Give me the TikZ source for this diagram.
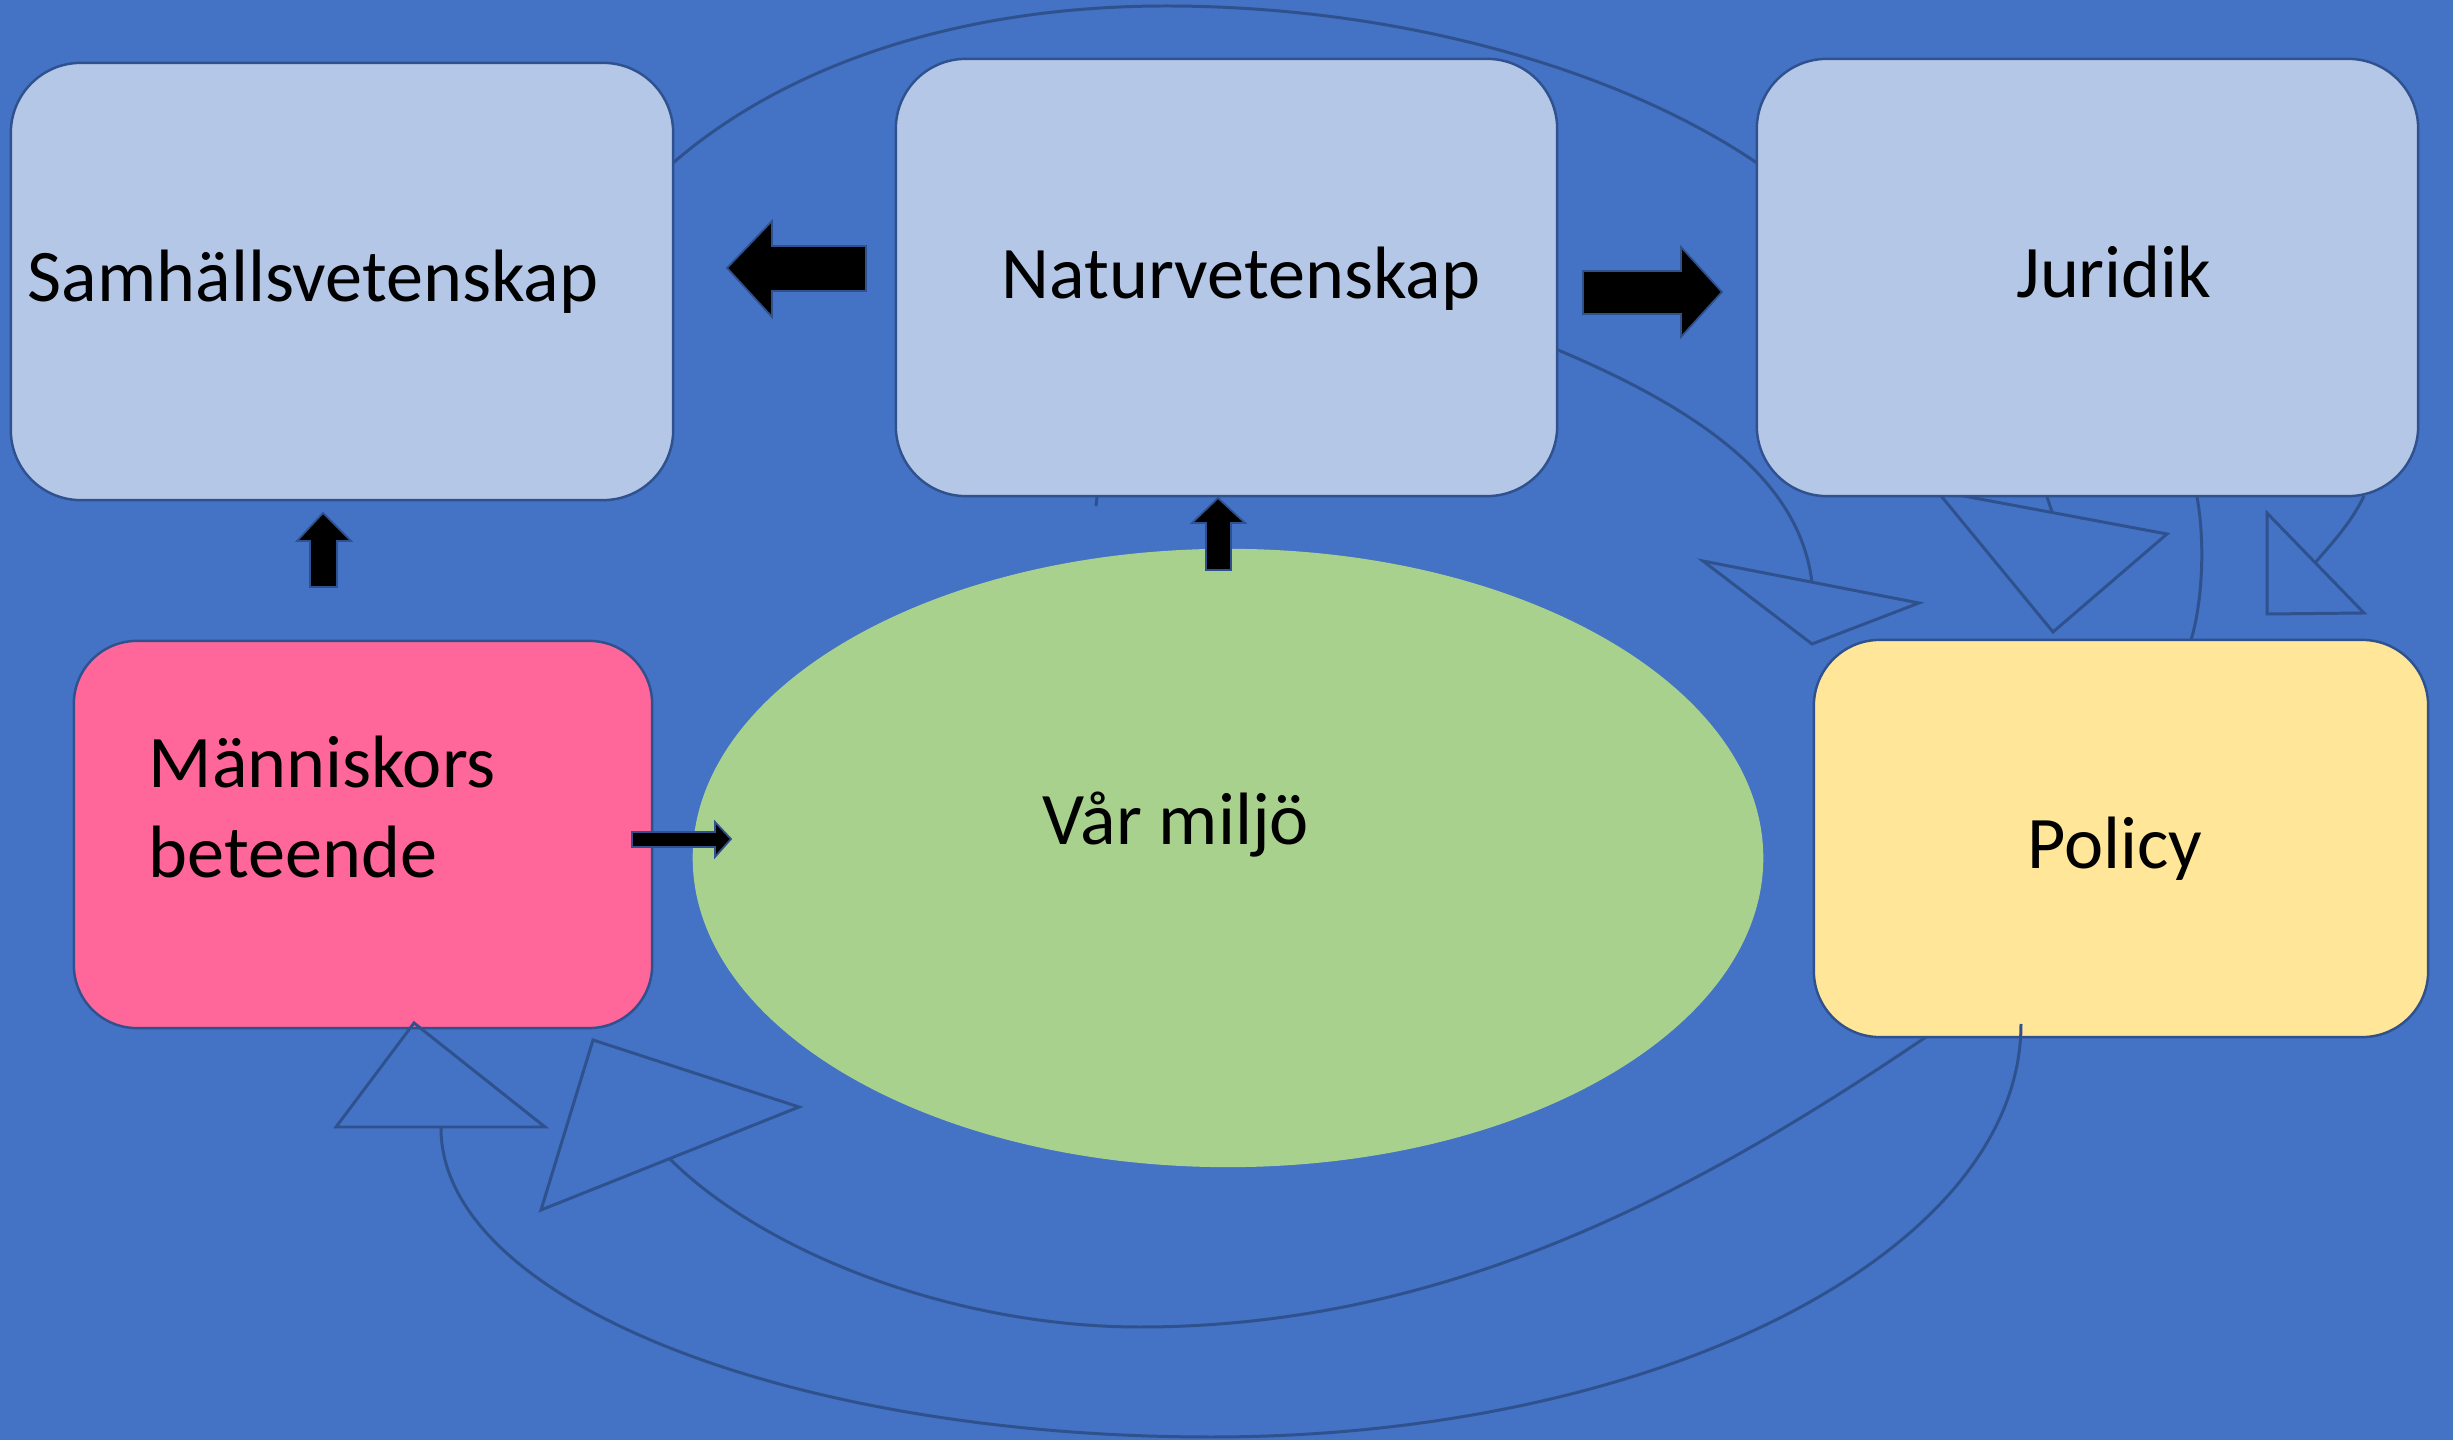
\documentclass[tikz,border=0pt]{standalone}
\usepackage{fontspec}
\setmainfont{Carlito}
\usetikzlibrary{shapes.geometric}
\definecolor{bg}{HTML}{4472C4}
\definecolor{lb}{HTML}{B4C7E7}
\definecolor{pk}{HTML}{FF6699}
\definecolor{yl}{HTML}{FFE699}
\definecolor{gr}{HTML}{A9D18E}
\definecolor{ol}{HTML}{2F528F}
\tikzset{
  box/.style={draw=ol, line width=0.7pt, rectangle, rounded corners=0.7cm, inner sep=0pt},
  lbl/.style={font=\fontsize{21.1pt}{26pt}\selectfont, text=black, inner sep=0pt},
  conn/.style={draw=ol, line width=0.85pt},
  head/.style={draw=ol, line width=0.85pt, line join=miter},
  blk/.style={fill=black, draw=ol, line width=0.5pt},
}
\begin{document}
\begin{tikzpicture}[x=0.01cm,y=-0.01cm]
\fill[bg] (0,0) rectangle (2453,1440);
\useasboundingbox (0,0) rectangle (2453,1440);

% arrowhead partly hidden under Juridik
\draw[head] (1937,491) -- (2167,534) -- (2053,632) -- cycle;

% boxes
\node[box, fill=lb, minimum width=6.62cm, minimum height=4.37cm] (samh) at (342,281.5) {};
\node[box, fill=lb, minimum width=6.61cm, minimum height=4.37cm] (natur) at (1226.5,277.5) {};
\node[box, fill=lb, minimum width=6.61cm, minimum height=4.37cm] (jur) at (2087.5,277.5) {};
\node[box, fill=pk, minimum width=5.78cm, minimum height=3.87cm, rounded corners=0.63cm] (mann) at (363,834.5) {};
\node[box, fill=yl, minimum width=6.14cm, minimum height=3.97cm, rounded corners=0.66cm] (pol) at (2121,838.5) {};
\node[ellipse, fill=gr, minimum width=10.70cm, minimum height=6.18cm, inner sep=0pt] (miljo) at (1228,858) {};

% texts
\node[lbl, anchor=base west] (tsamh) at (27,302) {Samhällsvetenskap};
\node[lbl, anchor=base] (tnat) at (1241,299) {Naturvetenskap};
\node[lbl, anchor=base] (tjur) at (2114,298) {Juridik};
\node[lbl, anchor=base] (tpol) at (2115,869) {Policy};
\node[lbl, anchor=base west] (tm1) at (148,788) {Människors};
\node[lbl, anchor=base west] (tm2) at (148,878) {beteende};
\node[lbl, anchor=base] (tvar) at (1176,845) {Vår miljö};

% connector end points
\coordinate (a1) at (673,163);
\coordinate (a2) at (1757,163);
\coordinate (n1) at (1558,350);
\coordinate (t1b) at (1812,583);
\coordinate (j1) at (2047,497);
\coordinate (t2b) at (2052,512);
\coordinate (j2) at (2197,497);
\coordinate (p2) at (2191,640);
\coordinate (j3) at (2364,496);
\coordinate (t3b) at (2315,563);
\coordinate (p1) at (1926,1037);
\coordinate (tBb) at (669,1158);
\coordinate (p3) at (2021,1024);
\coordinate (tAb) at (441,1128);
\coordinate (k1) at (1097,497);
\coordinate (k2) at (1096,506);

% connectors
\draw[conn] (a1) .. controls (780,70) and (950,6) .. (1166,6)
                 .. controls (1400,6) and (1620,70) .. (a2);
\draw[conn] (n1) .. controls (1700,410) and (1800,480) .. (t1b);
\draw[head] (1703,561) -- (1919,603) -- (1812,644) -- cycle;
\draw[conn] (j1) -- (t2b);
\draw[conn] (j2) .. controls (2205,540) and (2203,600) .. (p2);
\draw[conn] (j3) .. controls (2350,525) and (2330,545) .. (t3b);
\draw[head] (2267,513) -- (2267,614) -- (2364,613) -- cycle;
\draw[conn] (p1) .. controls (1700,1190) and (1450,1327) .. (1140,1327)
                 .. controls (950,1327) and (760,1250) .. (tBb);
\draw[head] (593,1040) -- (799,1107) -- (541,1210) -- cycle;
\draw[conn] (p3) .. controls (2021,1252) and (1658,1437) .. (1211,1437)
                 .. controls (786,1437) and (441,1299) .. (tAb);
\draw[head] (414,1023) -- (336,1127) -- (545,1127) -- cycle;
\draw[conn] (k1) -- (k2);

% block arrows
\draw[blk] (866,246) -- (772,246) -- (772,221) -- (727,268) -- (772,317) -- (772,291) -- (866,291) -- cycle;
\draw[blk] (1583,271) -- (1681,271) -- (1681,247) -- (1722,292) -- (1681,337) -- (1681,314) -- (1583,314) -- cycle;
\draw[blk] (1206,570) -- (1206,523) -- (1192,523) -- (1218,498) -- (1245,523) -- (1231,523) -- (1231,570) -- cycle;
\draw[blk] (310,587) -- (310,541) -- (297,541) -- (323,513) -- (351,541) -- (337,541) -- (337,587) -- cycle;
\draw[blk] (632,832) -- (715,832) -- (715,822) -- (731,839) -- (715,857) -- (715,847) -- (632,847) -- cycle;
\end{tikzpicture}
\end{document}
